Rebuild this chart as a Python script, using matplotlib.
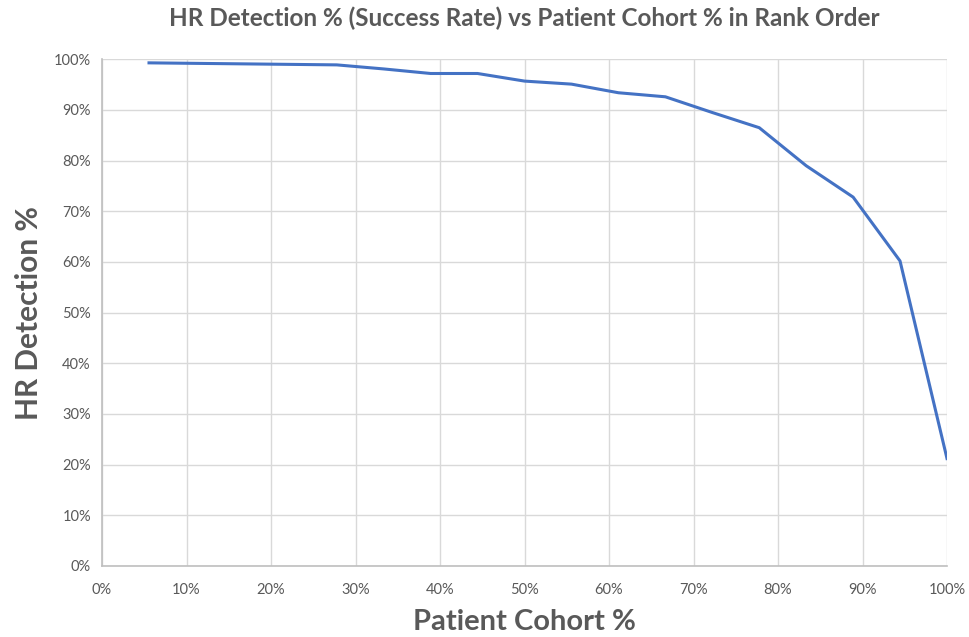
import matplotlib
matplotlib.use("Agg")
import matplotlib.pyplot as plt
from matplotlib.ticker import PercentFormatter, MultipleLocator

cohort_pct = [5.56, 11.11, 16.67, 22.22, 27.78, 33.33, 38.89, 44.44, 50.0,
              55.56, 61.11, 66.67, 72.22, 77.78, 83.33, 88.89, 94.44, 100.0]
hr_detection_pct = [99.3, 99.2, 99.1, 99.0, 98.9, 98.1, 97.2, 97.2, 95.7,
                    95.1, 93.4, 92.6, 89.5, 86.5, 79.0, 72.8, 60.2, 21.2]

title = "HR Detection % (Success Rate) vs Patient Cohort % in Rank Order"
xlabel = "Patient Cohort %"
ylabel = "HR Detection %"

plt.rcParams['font.family'] = ['Lato', 'DejaVu Sans']

fig = plt.figure(figsize=(9.69, 6.37), dpi=100)
ax = fig.add_axes([0.1053, 0.1115, 0.872, 0.7954])

ax.plot(cohort_pct, hr_detection_pct, color='#4472C4', linewidth=2.2, solid_joinstyle='round')

ax.set_xlim(0, 100)
ax.set_ylim(0, 100)
ax.xaxis.set_major_locator(MultipleLocator(10))
ax.yaxis.set_major_locator(MultipleLocator(10))
ax.xaxis.set_major_formatter(PercentFormatter(decimals=0))
ax.yaxis.set_major_formatter(PercentFormatter(decimals=0))

ax.grid(True, color='#D9D9D9', linewidth=1.0)
ax.set_axisbelow(True)
for s in ['top', 'right']:
    ax.spines[s].set_visible(False)
for s in ['left', 'bottom']:
    ax.spines[s].set_color('#BFBFBF')
    ax.spines[s].set_linewidth(1.2)

ax.tick_params(axis='both', length=0, labelsize=10.5, labelcolor='#595959')
ax.tick_params(axis='x', pad=12)
ax.tick_params(axis='y', pad=8)

ax.set_title(title, fontsize=17.5, fontweight='bold', color='#595959', pad=24)
ax.set_xlabel(xlabel, fontsize=21, fontweight='bold', color='#595959', labelpad=9)
ax.set_ylabel(ylabel, fontsize=21.5, fontweight='bold', color='#595959', labelpad=8)

fig.savefig("out.png", dpi=100, facecolor='white')
